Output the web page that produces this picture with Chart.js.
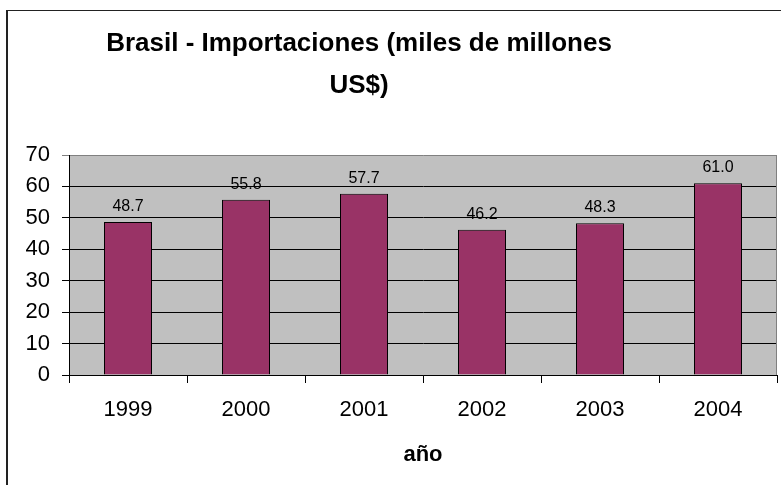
<!DOCTYPE html>
<html lang="es">
<head>
<meta charset="UTF-8">
<title>Brasil - Importaciones</title>
<script src="https://cdn.jsdelivr.net/npm/chart.js"></script>
<style>
  html, body { margin: 0; padding: 0; background: #fff; }
  #wrap { width: 781px; height: 485px; position: relative; }
</style>
</head>
<body>
<div id="wrap"><canvas id="myChart"></canvas></div>
<script>
// datos
const years = ['1999', '2000', '2001', '2002', '2003', '2004'];
const importaciones = [48.7, 55.8, 57.7, 46.2, 48.3, 61.0];
const titleLines = ['Brasil - Importaciones (miles de millones', 'US$)'];
const xTitle = 'año';
const yMin = 0, yMax = 70, yStep = 10;

const font = 'Liberation Sans, Arial, sans-serif';

// fondo gris del area de trazado, marco exterior, titulo y etiquetas
const backdrop = {
  id: 'backdrop',
  beforeDraw(chart) {
    const {ctx, chartArea: a} = chart;
    ctx.save();
    ctx.fillStyle = '#c0c0c0';
    ctx.fillRect(a.left, a.top, a.right - a.left, a.bottom - a.top);
    ctx.fillStyle = '#222';
    ctx.fillRect(6, 10, 2, 480);
    ctx.fillRect(6, 10, 790, 1);
    // titulo (centrado sobre el marco, no sobre el lienzo)
    ctx.fillStyle = '#000';
    ctx.font = 'bold 26px ' + font;
    ctx.textAlign = 'center';
    ctx.textBaseline = 'middle';
    titleLines.forEach((line, i) => ctx.fillText(line, 359, 44 + i * 42));
    ctx.restore();
  },
  afterDatasetsDraw(chart) {
    const {ctx, chartArea: a} = chart;
    ctx.save();
    ctx.strokeStyle = '#808080';
    ctx.lineWidth = 1;
    ctx.beginPath();
    ctx.moveTo(a.right - 0.5, a.top);
    ctx.lineTo(a.right - 0.5, a.bottom);
    ctx.stroke();
    // etiquetas de valor sobre las barras
    ctx.fillStyle = '#000';
    ctx.font = '16px ' + font;
    ctx.textAlign = 'center';
    ctx.textBaseline = 'alphabetic';
    chart.getDatasetMeta(0).data.forEach((bar, i) => {
      ctx.fillText(importaciones[i].toFixed(1), bar.x, bar.y - 11);
    });
    ctx.restore();
  }
};

new Chart(document.getElementById('myChart'), {
  type: 'bar',
  data: {
    labels: years,
    datasets: [{
      data: importaciones,
      backgroundColor: '#993366',
      borderColor: '#000',
      borderWidth: 1,
      barPercentage: 0.407,
      categoryPercentage: 1
    }]
  },
  options: {
    responsive: true,
    maintainAspectRatio: false,
    animation: false,
    layout: { padding: { left: 7, right: 4, top: 155, bottom: 0 } },
    plugins: {
      legend: { display: false },
      tooltip: { enabled: false },
      title: { display: false }
    },
    scales: {
      x: {
        afterFit(scale) { scale.height = 110; },
        grid: {
          drawOnChartArea: false,
          drawTicks: true,
          tickLength: 8,
          color: '#000'
        },
        border: { color: '#000' },
        ticks: {
          color: '#000',
          padding: 14,
          font: { family: font, size: 22 }
        },
        title: {
          display: true,
          text: xTitle,
          color: '#000',
          font: { family: font, size: 22, weight: 'bold' },
          padding: { top: 0, bottom: 17 }
        }
      },
      y: {
        min: yMin,
        max: yMax,
        afterFit(scale) { scale.width = 62; },
        grid: {
          color: ctx => (ctx.tick && ctx.tick.value === yMax) ? '#808080' : '#000',
          tickLength: 7
        },
        border: { color: '#000' },
        ticks: {
          stepSize: yStep,
          color: '#000',
          padding: 12,
          font: { family: font, size: 22 }
        }
      }
    }
  },
  plugins: [backdrop]
});
</script>
</body>
</html>
